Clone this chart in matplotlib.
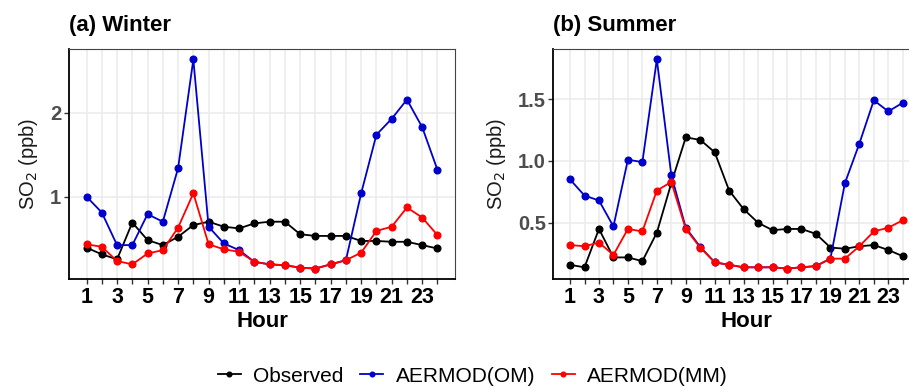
import matplotlib
matplotlib.use("Agg")
import matplotlib.pyplot as plt
from matplotlib.ticker import FixedLocator

plt.rcParams["font.family"] = ["Liberation Sans", "DejaVu Sans"]

# ===== DATA =====
HOURS = list(range(1, 25))

WINTER_OBS = [0.39, 0.31, 0.25, 0.69, 0.48, 0.42, 0.52, 0.66, 0.70, 0.64, 0.62, 0.68,
              0.70, 0.70, 0.55, 0.53, 0.53, 0.53, 0.47, 0.47, 0.46, 0.46, 0.42, 0.38]
WINTER_OM = [1.00, 0.81, 0.42, 0.42, 0.79, 0.70, 1.34, 2.64, 0.64, 0.44, 0.36, 0.22,
             0.19, 0.18, 0.15, 0.14, 0.19, 0.24, 1.04, 1.74, 1.93, 2.16, 1.83, 1.32]
WINTER_MM = [0.43, 0.40, 0.23, 0.19, 0.32, 0.36, 0.63, 1.04, 0.43, 0.37, 0.34, 0.22,
             0.19, 0.18, 0.15, 0.14, 0.19, 0.24, 0.33, 0.59, 0.64, 0.87, 0.75, 0.54]

SUMMER_OBS = [0.16, 0.14, 0.45, 0.22, 0.22, 0.19, 0.42, 0.82, 1.19, 1.17, 1.07, 0.76,
              0.61, 0.50, 0.44, 0.45, 0.45, 0.41, 0.30, 0.29, 0.31, 0.32, 0.28, 0.23]
SUMMER_OM = [0.85, 0.72, 0.68, 0.47, 1.01, 0.99, 1.82, 0.885, 0.46, 0.305, 0.18, 0.16,
             0.14, 0.14, 0.14, 0.13, 0.14, 0.15, 0.21, 0.82, 1.14, 1.49, 1.40, 1.47]
SUMMER_MM = [0.32, 0.31, 0.34, 0.24, 0.45, 0.43, 0.76, 0.83, 0.45, 0.30, 0.18, 0.16,
             0.14, 0.14, 0.14, 0.13, 0.14, 0.15, 0.21, 0.21, 0.31, 0.43, 0.46, 0.52]

SERIES_LABELS = ["Observed", "AERMOD(OM)", "AERMOD(MM)"]
SERIES_COLORS = ["black", "#0000CC", "#FF0000"]

PANELS = [
    ("(a) Winter", [WINTER_OBS, WINTER_OM, WINTER_MM], [1, 2], ["1", "2"]),
    ("(b) Summer", [SUMMER_OBS, SUMMER_OM, SUMMER_MM], [0.5, 1.0, 1.5], ["0.5", "1.0", "1.5"]),
]

# ===== LAYOUT (pixels of a 909x391 canvas) =====
W, H = 909, 391
AX_BOX = [(69, 49, 386, 230), (553.4, 49, 366, 230)]


def px_box(x, y, w, h):
    return [x / W, 1 - (y + h) / H, w / W, h / H]


fig = plt.figure(figsize=(W / 100, H / 100), dpi=100)

handles = None
for (title, series, yticks, ylabels), box in zip(PANELS, AX_BOX):
    ax = fig.add_axes(px_box(*box))

    for vals, lab, col in zip(series, SERIES_LABELS, SERIES_COLORS):
        ax.plot(HOURS, vals, color=col, lw=1.3, marker="o", ms=4.8, label=lab,
                solid_joinstyle="round")

    lo = min(min(s) for s in series)
    hi = max(max(s) for s in series)
    pad = (hi - lo) * 0.05
    ax.set_ylim(lo - pad, hi + pad)
    ax.set_xlim(1 - 23 * 0.05, 24 + 23 * 0.05)

    ax.xaxis.set_major_locator(FixedLocator(HOURS))
    ax.set_xticklabels([str(h) if h % 2 == 1 else "" for h in HOURS])
    ax.set_yticks(yticks)
    ax.set_yticklabels(ylabels)

    ax.grid(True, color="#EBEBEB", lw=1.1)
    ax.set_axisbelow(True)

    ax.tick_params(axis="x", length=3.5, width=1.0, color="#333333", pad=2.5,
                   labelsize=15.5, labelcolor="black")
    ax.tick_params(axis="y", length=3.5, width=1.0, color="#333333", pad=2,
                   labelsize=14.5, labelcolor="#4D4D4D")
    for lbl in ax.get_xticklabels() + ax.get_yticklabels():
        lbl.set_fontweight("bold")

    for side in ("left", "bottom"):
        ax.spines[side].set_color("black")
        ax.spines[side].set_linewidth(1.3)
    for side in ("top", "right"):
        ax.spines[side].set_color("#444444")
        ax.spines[side].set_linewidth(0.8)

    ax.set_ylabel("SO$_2$ (ppb)", fontsize=14.5, color="#1A1A1A", labelpad=7)

    fig.text(box[0] / W, 1 - 25 / H, title, fontsize=16, fontweight="bold",
             ha="left", va="center")
    fig.text((box[0] + 193) / W, 1 - 327 / H, "Hour", fontsize=16,
             fontweight="bold", ha="center", va="baseline")

    handles, labels = ax.get_legend_handles_labels()

fig.legend(handles, SERIES_LABELS, loc="center", bbox_to_anchor=(473 / W, 1 - 376 / H),
           ncol=3, frameon=False, fontsize=15, handlelength=1.1, handletextpad=0.6,
           columnspacing=0.8, markerscale=0.7)

fig.savefig("out.png", dpi=100)
